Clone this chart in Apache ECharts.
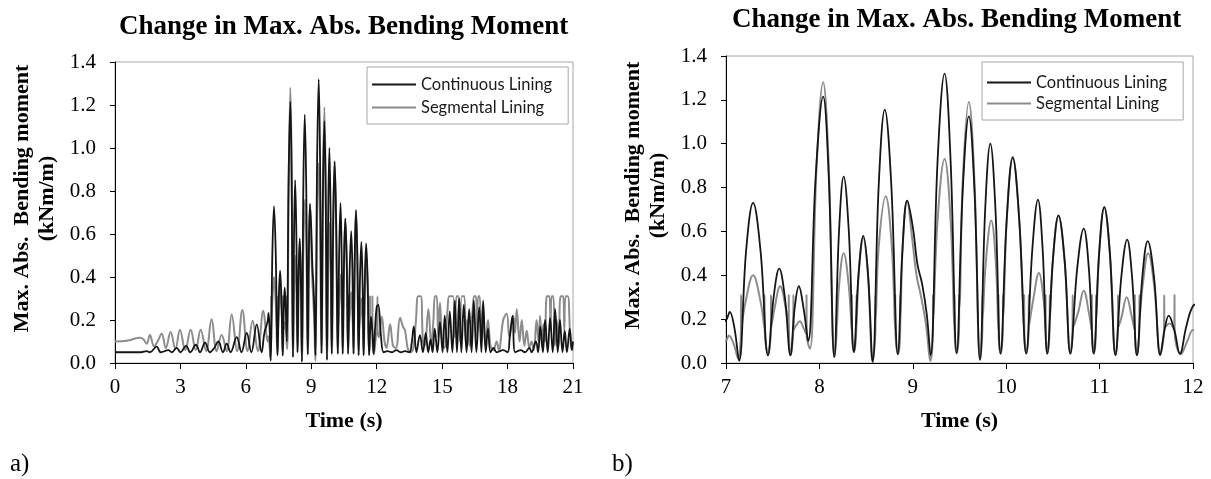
<!DOCTYPE html>
<html>
<head>
<meta charset="utf-8">
<script src="https://cdn.jsdelivr.net/npm/echarts@6/dist/echarts.min.js"></script>
<style>
html,body{margin:0;padding:0;background:#fff;}
#c{width:1211px;height:479px;}
</style>
</head>
<body>
<div id="c"></div>
<script>
// ---- data (time in s, max. abs. bending moment in kNm/m) ----
const chartTitle = 'Change in Max. Abs. Bending Moment';
const seriesNames = ['Continuous Lining', 'Segmental Lining'];
const panelLabels = ['a)', 'b)'];
const xRangeA = [0, 21, 3];
const xRangeB = [7, 12, 1];
const yRange = [0, 1.4, 0.2];

const continuousLining = [
  [0,0.05],[1.2,0.05],[1.45,0.055],[1.6,0.05],[1.91,0.076],[2.1,0.05],[2.45,0.06],[2.6,0.05],
  [2.83,0.07],[3.0,0.05],[3.26,0.08],[3.45,0.05],[3.71,0.085],[3.9,0.05],[4.13,0.095],[4.35,0.05],
  [4.55,0.07],[4.74,0.1],[4.95,0.05],[5.12,0.09],[5.3,0.05],[5.58,0.12],[5.8,0.05],[6.04,0.14],
  [6.25,0.05],[6.5,0.18],[6.72,0.05],[6.85,0.14],
  [7.0,0.195],[7.04,0.233],[7.09,0.16],[7.14,0.01],
  [7.215,0.51],[7.29,0.73],[7.37,0.51],[7.45,0.035],
  [7.51,0.3],[7.57,0.43],[7.63,0.3],[7.69,0.035],
  [7.735,0.25],[7.78,0.35],[7.83,0.25],[7.88,0.1],
  [7.96,0.85],[8.04,1.215],[8.1,0.85],[8.16,0.027],
  [8.21,0.6],[8.26,0.85],[8.315,0.6],[8.37,0.05],
  [8.42,0.41],[8.47,0.58],[8.52,0.41],[8.57,0.005],
  [8.635,0.81],[8.7,1.155],[8.77,0.81],[8.84,0.04],
  [8.89,0.52],[8.94,0.74],[9.0,0.62],[9.05,0.45],[9.1,0.36],[9.15,0.22],[9.19,0.035],
  [9.265,0.92],[9.34,1.32],[9.405,0.92],[9.47,0.045],
  [9.535,0.79],[9.6,1.125],[9.66,0.79],[9.72,0.015],
  [9.775,0.7],[9.83,1.0],[9.885,0.7],[9.94,0.043],
  [10.005,0.65],[10.07,0.935],[10.14,0.65],[10.215,0.043],
  [10.28,0.52],[10.34,0.745],[10.39,0.52],[10.44,0.043],
  [10.5,0.47],[10.56,0.673],[10.625,0.47],[10.687,0.043],
  [10.76,0.43],[10.83,0.613],[10.885,0.43],[10.937,0.043],
  [10.995,0.5],[11.05,0.711],[11.11,0.5],[11.17,0.036],
  [11.232,0.39],[11.295,0.563],[11.348,0.39],[11.4,0.036],
  [11.457,0.39],[11.515,0.556],[11.583,0.39],[11.65,0.036],
  [11.695,0.15],[11.74,0.216],[11.8,0.15],[11.86,0.043],
  [11.93,0.17],[12.0,0.26],[12.07,0.27],[12.2,0.12],[12.32,0.05],
  [12.5,0.055],[12.7,0.05],[12.9,0.06],[13.1,0.05],[13.3,0.055],[13.5,0.05],[13.6,0.09],[13.7,0.17],
  [13.82,0.05],[13.98,0.13],[14.12,0.05],[14.25,0.14],[14.36,0.05],[14.47,0.11],[14.56,0.05],[14.66,0.16],
  [14.78,0.05],[14.9,0.19],[15.02,0.05],[15.12,0.22],[15.24,0.05],[15.35,0.24],[15.47,0.05],[15.58,0.29],
  [15.68,0.05],[15.78,0.3],[15.88,0.05],[15.99,0.27],[16.12,0.05],[16.24,0.25],[16.35,0.05],[16.45,0.29],
  [16.57,0.05],[16.7,0.26],[16.8,0.05],[16.88,0.29],[17.0,0.05],[17.1,0.16],[17.22,0.05],[17.35,0.07],
  [17.5,0.05],[17.8,0.06],[18.0,0.05],[18.1,0.12],[18.23,0.22],[18.35,0.05],[18.6,0.06],[18.8,0.05],
  [19.0,0.07],[19.1,0.05],[19.3,0.1],[19.4,0.05],[19.5,0.17],[19.62,0.05],[19.72,0.2],[19.84,0.05],
  [19.95,0.21],[20.07,0.05],[20.18,0.25],[20.3,0.05],[20.4,0.2],[20.52,0.05],[20.62,0.15],[20.72,0.05],
  [20.85,0.16],[20.95,0.06],[21.0,0.1]
];

const segmentalLining = [
  [0,0.1],[0.6,0.105],[1.15,0.118],[1.3,0.11],[1.45,0.09],[1.6,0.13],[1.79,0.078],[1.95,0.1],
  [2.14,0.136],[2.33,0.07],[2.55,0.144],[2.77,0.065],[2.98,0.155],[3.22,0.06],[3.47,0.155],[3.7,0.06],
  [3.93,0.155],[4.18,0.055],[4.43,0.203],[4.66,0.055],[4.89,0.13],[5.12,0.055],[5.35,0.226],[5.6,0.055],
  [5.84,0.246],[6.08,0.055],[6.31,0.196],[6.55,0.055],[6.8,0.243],[6.92,0.15],
  [7.0,0.1],[7.03,0.125],[7.08,0.09],[7.13,0.02],
  [7.16,0.15],[7.162,0.31],[7.164,0.16],[7.21,0.28],[7.29,0.40],[7.37,0.28],[7.41,0.16],[7.412,0.31],[7.414,0.15],[7.45,0.04],
  [7.48,0.15],[7.482,0.31],[7.484,0.16],[7.52,0.25],[7.58,0.35],[7.64,0.25],[7.67,0.16],[7.672,0.31],[7.674,0.14],[7.69,0.035],
  [7.72,0.15],[7.722,0.31],[7.724,0.15],[7.75,0.17],[7.79,0.19],[7.83,0.16],[7.86,0.13],[7.862,0.31],[7.864,0.12],[7.9,0.065],
  [7.97,0.9],[8.04,1.28],[8.1,0.9],[8.16,0.03],
  [8.185,0.15],[8.187,0.31],[8.189,0.17],[8.21,0.35],[8.26,0.5],[8.315,0.35],[8.345,0.15],[8.347,0.31],[8.349,0.14],[8.37,0.05],
  [8.395,0.15],[8.397,0.31],[8.399,0.17],[8.42,0.4],[8.47,0.57],[8.52,0.4],[8.57,0.01],
  [8.6,0.15],[8.602,0.31],[8.604,0.2],[8.635,0.53],[8.71,0.76],[8.775,0.53],[8.81,0.15],[8.812,0.31],[8.814,0.14],[8.84,0.04],
  [8.865,0.15],[8.867,0.31],[8.869,0.2],[8.89,0.52],[8.94,0.74],[8.99,0.58],[9.04,0.4],[9.09,0.3],[9.14,0.18],[9.19,0.01],
  [9.215,0.15],[9.217,0.31],[9.219,0.2],[9.265,0.65],[9.34,0.93],[9.405,0.65],[9.445,0.15],[9.447,0.31],[9.449,0.14],[9.47,0.045],
  [9.495,0.15],[9.497,0.31],[9.499,0.25],[9.535,0.83],[9.6,1.19],[9.66,0.83],[9.72,0.015],
  [9.745,0.15],[9.747,0.31],[9.749,0.2],[9.78,0.45],[9.84,0.65],[9.89,0.45],[9.915,0.15],[9.917,0.31],[9.919,0.14],[9.94,0.043],
  [9.965,0.15],[9.967,0.31],[9.969,0.22],[10.005,0.65],[10.07,0.94],[10.14,0.65],[10.19,0.15],[10.192,0.31],[10.194,0.14],[10.215,0.043],
  [10.24,0.15],[10.242,0.31],[10.244,0.17],[10.29,0.29],[10.35,0.41],[10.4,0.29],[10.42,0.15],[10.422,0.31],[10.424,0.14],[10.44,0.043],
  [10.465,0.15],[10.467,0.31],[10.469,0.2],[10.5,0.47],[10.56,0.67],[10.625,0.47],[10.687,0.043],
  [10.71,0.15],[10.712,0.31],[10.714,0.16],[10.77,0.23],[10.83,0.33],[10.885,0.23],[10.915,0.15],[10.917,0.31],[10.919,0.14],[10.937,0.043],
  [10.96,0.15],[10.962,0.31],[10.964,0.2],[10.995,0.5],[11.05,0.71],[11.11,0.5],[11.17,0.036],
  [11.195,0.15],[11.197,0.31],[11.199,0.16],[11.235,0.21],[11.29,0.3],[11.345,0.21],[11.375,0.15],[11.377,0.31],[11.379,0.14],[11.4,0.036],
  [11.425,0.15],[11.427,0.31],[11.429,0.2],[11.46,0.35],[11.52,0.5],[11.585,0.35],[11.65,0.04],
  [11.69,0.15],[11.692,0.31],[11.694,0.16],[11.75,0.18],[11.8,0.15],[11.802,0.31],[11.804,0.14],[11.87,0.04],
  [11.94,0.1],[12.0,0.15],
  [12.03,0.15],[12.035,0.31],[12.04,0.15],[12.1,0.12],[12.23,0.215],[12.36,0.1],[12.45,0.07],[12.61,0.18],
  [12.75,0.08],[12.88,0.07],[13.07,0.21],[13.2,0.17],[13.3,0.15],[13.42,0.07],[13.55,0.05],[13.68,0.07],
  [13.8,0.2],[13.9,0.31],[14.02,0.31],[14.12,0.1],[14.2,0.08],[14.37,0.25],[14.5,0.08],[14.6,0.2],
  [14.67,0.31],[14.75,0.31],[14.82,0.12],[14.9,0.28],[15.0,0.1],[15.1,0.07],[15.25,0.25],[15.33,0.31],
  [15.5,0.31],[15.58,0.12],[15.66,0.31],[15.75,0.31],[15.82,0.1],[15.9,0.31],[16.02,0.31],[16.08,0.1],
  [16.14,0.2],[16.25,0.08],[16.4,0.25],[16.47,0.31],[16.55,0.31],[16.6,0.12],[16.65,0.31],[16.72,0.31],
  [16.8,0.1],[16.88,0.25],[16.98,0.08],[17.1,0.2],[17.22,0.08],[17.35,0.06],[17.5,0.1],[17.6,0.06],
  [17.8,0.2],[17.96,0.23],[18.08,0.12],[18.26,0.22],[18.34,0.14],[18.42,0.25],[18.55,0.1],[18.65,0.2],
  [18.77,0.08],[18.88,0.15],[19.0,0.07],[19.1,0.1],[19.2,0.06],[19.33,0.2],[19.42,0.1],[19.49,0.22],
  [19.57,0.08],[19.64,0.18],[19.72,0.1],[19.8,0.31],[19.92,0.31],[19.97,0.15],[20.02,0.31],[20.1,0.31],
  [20.17,0.08],[20.25,0.2],[20.35,0.08],[20.43,0.31],[20.55,0.31],[20.6,0.15],[20.66,0.31],[20.76,0.31],
  [20.86,0.15],[20.94,0.06],[21.0,0.07]
];

// ---- styling / layout ----
const SERIF = '"Liberation Serif", "Times New Roman", serif';
const SANS = 'Lato, "Open Sans", sans-serif';
const BLACK = '#151515';
const GRAY = '#8c8c8c';

function xAxisCfg(gridIndex, range) {
  return {
    type: 'value', gridIndex: gridIndex, min: range[0], max: range[1], interval: range[2],
    name: 'Time (s)', nameLocation: 'middle', nameGap: 47,
    nameTextStyle: {fontFamily: SERIF, fontWeight: 'bold', fontSize: 22, color: '#000'},
    axisLine: {show: true, onZero: false, lineStyle: {color: '#000', width: 1}},
    axisTick: {show: true, length: 6, lineStyle: {color: '#000'}},
    axisLabel: {fontFamily: SERIF, fontSize: 21, color: '#000', margin: 14},
    splitLine: {show: false}
  };
}
function yAxisCfg(gridIndex) {
  return {
    type: 'value', gridIndex: gridIndex, min: yRange[0], max: yRange[1], interval: yRange[2],
    name: 'Max. Abs.  Bending moment\n(kNm/m)', nameLocation: 'middle', nameRotate: 90, nameGap: 55,
    nameTextStyle: {fontFamily: SERIF, fontWeight: 'bold', fontSize: 22, lineHeight: 25, color: '#000',
      padding: [0, 0, 0, 28]},
    axisLine: {show: true, lineStyle: {color: '#000', width: 1}},
    axisTick: {show: true, length: 5, lineStyle: {color: '#000'}},
    axisLabel: {fontFamily: SERIF, fontSize: 21, color: '#000', margin: 19,
      formatter: function (v) { return v.toFixed(1); }},
    splitLine: {show: false}
  };
}
function lineSeries(name, data, idx, color, width, z) {
  return {
    type: 'line', name: name, data: data, xAxisIndex: idx, yAxisIndex: idx,
    symbol: 'none', smooth: 0.4, z: z, animation: false,
    lineStyle: {color: color, width: width}, itemStyle: {color: color}
  };
}
function legendCfg(left, top, gap, padTop) {
  return {
    data: seriesNames, orient: 'vertical', left: left, top: top,
    icon: 'rect', itemWidth: 44, itemHeight: 2, itemGap: gap,
    padding: [padTop, 16, 8, 5],
    borderColor: '#a6a6a6', borderWidth: 1, backgroundColor: '#fff',
    textStyle: {fontFamily: SANS, fontSize: 16.5, color: '#1a1a1a', lineHeight: 17},
    selectedMode: false
  };
}

const option = {
  backgroundColor: '#fff',
  animation: false,
  title: [
    {text: chartTitle, left: 114, top: 9,
     textStyle: {fontFamily: SERIF, fontWeight: 'bold', fontSize: 27, color: '#000'}},
    {text: chartTitle, left: 727, top: 2,
     textStyle: {fontFamily: SERIF, fontWeight: 'bold', fontSize: 27, color: '#000'}}
  ],
  grid: [
    {left: 115, top: 62, right: 638, bottom: 116, show: true, borderColor: '#a6a6a6', borderWidth: 1},
    {left: 726, top: 56, right: 18, bottom: 116, show: true, borderColor: '#a6a6a6', borderWidth: 1}
  ],
  xAxis: [xAxisCfg(0, xRangeA), xAxisCfg(1, xRangeB)],
  yAxis: [yAxisCfg(0), yAxisCfg(1)],
  legend: [legendCfg(367, 67, 6, 9), legendCfg(982, 62, 4, 12)],
  series: [
    lineSeries(seriesNames[1], segmentalLining, 0, GRAY, 2, 2),
    lineSeries(seriesNames[0], continuousLining, 0, BLACK, 1.8, 3),
    lineSeries(seriesNames[1], segmentalLining, 1, GRAY, 2, 2),
    lineSeries(seriesNames[0], continuousLining, 1, BLACK, 1.8, 3)
  ],
  graphic: [
    {type: 'text', left: 10, top: 452, style: {text: panelLabels[0], font: '25px ' + SERIF, fill: '#000'}},
    {type: 'text', left: 612, top: 452, style: {text: panelLabels[1], font: '25px ' + SERIF, fill: '#000'}}
  ]
};

const chart = echarts.init(document.getElementById('c'), null, {renderer: 'canvas'});
chart.setOption(option);
</script>
</body>
</html>
